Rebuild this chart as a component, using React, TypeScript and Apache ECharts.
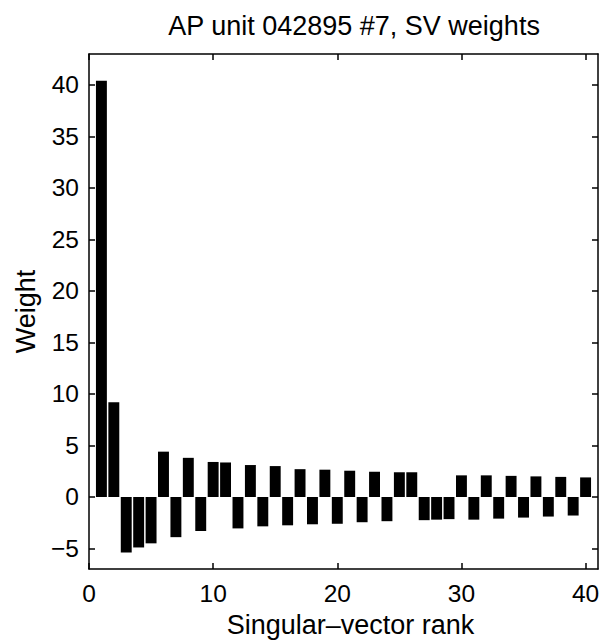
import React, { useEffect, useRef } from "react";
import * as echarts from "echarts";

const ranks = Array.from({ length: 40 }, (_, i) => i + 1);
const weights = [
  40.4, 9.2, -5.4, -4.9, -4.5, 4.4, -3.9, 3.8, -3.3, 3.4,
  3.35, -3.05, 3.1, -2.85, 3.0, -2.75, 2.7, -2.65, 2.65, -2.6,
  2.55, -2.45, 2.45, -2.35, 2.4, 2.4, -2.25, -2.2, -2.15, 2.1,
  -2.2, 2.1, -2.1, 2.05, -2.0, 2.0, -1.9, 1.95, -1.8, 1.9,
];
const xTicks = [0, 10, 20, 30, 40];
const yTicks = [-5, 0, 5, 10, 15, 20, 25, 30, 35, 40];
const xRange = [0, 41];
const yRange = [-7, 43];

const FONT = "'Liberation Sans', Arial, Helvetica, sans-serif";
const TICK_FS = 24.5;
const LABEL_FS = 27;

export default function App() {
  const ref = useRef<HTMLDivElement>(null);
  useEffect(() => {
    if (!ref.current) return;
    const chart = echarts.init(ref.current, null, { renderer: "svg" });
    const axisLine = { show: true, onZero: false, lineStyle: { color: "#000", width: 1.5 } };
    const tick = (vals: number[]) => ({
      show: true,
      inside: true,
      length: 6,
      customValues: vals,
      lineStyle: { color: "#000", width: 1.5 },
    });
    chart.setOption({
      animation: false,
      backgroundColor: "#fff",
      title: {
        text: "AP unit 042895 #7, SV weights",
        left: 349,
        top: 7,
        textAlign: "center",
        textStyle: { fontFamily: FONT, fontSize: LABEL_FS, fontWeight: "normal", color: "#000" },
      },
      grid: { left: 89, right: 15, top: 54, bottom: 71, containLabel: false },
      xAxis: [
        {
          type: "value",
          min: xRange[0],
          max: xRange[1],
          name: "Singular\u2013vector rank",
          nameLocation: "middle",
          nameGap: 41,
          nameTextStyle: { fontFamily: FONT, fontSize: LABEL_FS, color: "#000", padding: [0, 0, 0, 14] },
          axisLine,
          axisTick: tick(xTicks),
          axisLabel: {
            customValues: xTicks,
            margin: 12,
            fontFamily: FONT,
            fontSize: TICK_FS,
            color: "#000",
          },
          splitLine: { show: false },
        },
        {
          type: "value",
          position: "top",
          min: xRange[0],
          max: xRange[1],
          axisLine,
          axisTick: tick(xTicks),
          axisLabel: { show: false },
          splitLine: { show: false },
        },
      ],
      yAxis: [
        {
          type: "value",
          min: yRange[0],
          max: yRange[1],
          name: "Weight",
          nameLocation: "middle",
          nameGap: 50,
          nameTextStyle: { fontFamily: FONT, fontSize: LABEL_FS, color: "#000" },
          axisLine,
          axisTick: tick(yTicks),
          axisLabel: {
            customValues: yTicks,
            margin: 10,
            fontFamily: FONT,
            fontSize: TICK_FS,
            color: "#000",
            formatter: (v: number) => (v < 0 ? "\u2212" + Math.abs(v) : String(v)),
          },
          splitLine: { show: false },
        },
        {
          type: "value",
          position: "right",
          min: yRange[0],
          max: yRange[1],
          axisLine,
          axisTick: tick(yTicks),
          axisLabel: { show: false },
          splitLine: { show: false },
        },
      ],
      series: [
        {
          type: "bar",
          xAxisIndex: 0,
          yAxisIndex: 0,
          data: ranks.map((r, i) => [r, weights[i]]),
          barWidth: "88%",
          itemStyle: { color: "#000" },
        },
      ],
    });
    return () => chart.dispose();
  }, []);
  return (
    <div
      ref={ref}
      style={{ position: "fixed", left: 0, top: 0, width: 613, height: 643, background: "#fff" }}
    />
  );
}
